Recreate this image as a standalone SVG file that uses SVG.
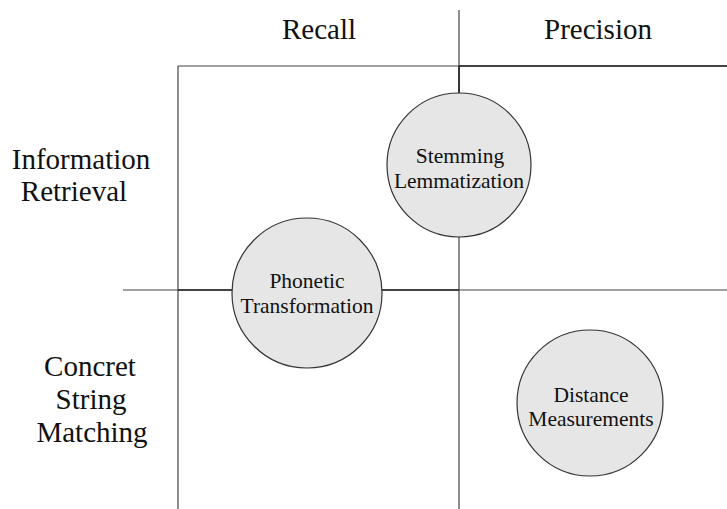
<svg xmlns="http://www.w3.org/2000/svg" width="727" height="509" viewBox="0 0 727 509">
  <style>
    .axis { stroke: #444; stroke-width: 1.2; fill: none; }
    .dark { stroke: #222; stroke-width: 1.6; fill: none; }
    .node circle { fill: #e6e6e6; stroke: #333; stroke-width: 1.2; }
    .head { font-family: "Liberation Serif", "Times New Roman", serif; font-size: 29px; fill: #111; text-anchor: middle; }
    .lbl { font-family: "Liberation Serif", "Times New Roman", serif; font-size: 21.5px; fill: #111; text-anchor: middle; }
  </style>
  <rect width="727" height="509" fill="#fff"/>

  <!-- quadrant grid -->
  <g id="connectors">
    <line class="axis" x1="178" y1="66" x2="178" y2="509"/>
    <line class="axis" x1="459" y1="10" x2="459" y2="509"/>
    <line class="axis" x1="178" y1="66" x2="727" y2="66"/>
    <line class="axis" x1="123" y1="290" x2="727" y2="290"/>
    <line class="dark" x1="459" y1="66" x2="727" y2="66"/>
    <line class="dark" x1="459" y1="66" x2="459" y2="94"/>
    <line class="dark" x1="178" y1="290" x2="233" y2="290"/>
    <line class="dark" x1="381" y1="290" x2="459" y2="290"/>
  </g>

  <!-- column and row headings -->
  <g id="headings">
    <text class="head" x="319" y="39">Recall</text>
    <text class="head" x="598" y="39">Precision</text>
    <text class="head" x="81" y="169">Information</text>
    <text class="head" x="74" y="201">Retrieval</text>
    <text class="head" x="90" y="376">Concret</text>
    <text class="head" x="91" y="409">String</text>
    <text class="head" x="92" y="442">Matching</text>
  </g>

  <g id="stemming" class="node">
    <circle cx="459" cy="165" r="72"/>
    <text class="lbl" x="460" y="163">Stemming</text>
    <text class="lbl" x="459" y="188">Lemmatization</text>
  </g>

  <g id="phonetic" class="node">
    <circle cx="307" cy="293" r="75"/>
    <text class="lbl" x="307" y="288">Phonetic</text>
    <text class="lbl" x="307" y="313">Transformation</text>
  </g>

  <g id="distance" class="node">
    <circle cx="590" cy="403" r="73"/>
    <text class="lbl" x="591" y="402">Distance</text>
    <text class="lbl" x="591" y="426">Measurements</text>
  </g>
</svg>
